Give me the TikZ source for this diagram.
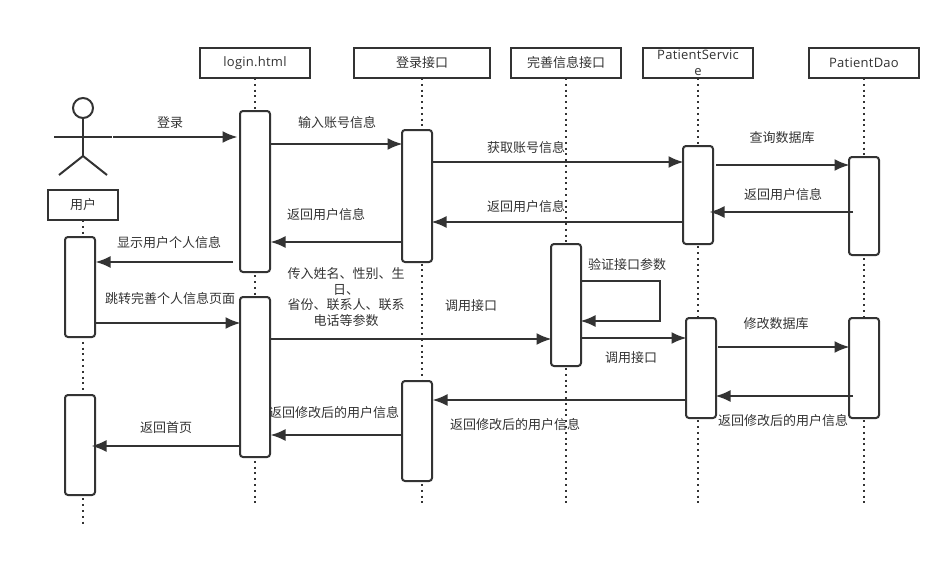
\documentclass[tikz,border=0pt]{standalone}
\usepackage{fontspec}
\setmainfont{Open Sans}
\newfontfamily\cjk{Noto Sans CJK SC}
\usetikzlibrary{arrows.meta}
\definecolor{ink}{HTML}{333333}
\newcommand{\lowered}[1]{\raisebox{-1pt}{#1}}
\tikzset{
  every node/.style={text=ink,font=\fontsize{13}{15.8}\selectfont\cjk,inner sep=0pt,outer sep=0pt},
  head/.style={draw=ink,line width=2pt,fill=white,minimum height=30pt,anchor=north west,align=center},
  latin/.style={font=\fontsize{13}{15}\selectfont\addfontfeatures{LetterSpace=2}},
  act/.style={draw=ink,line width=2pt,fill=white,rounded corners=3pt,minimum width=30pt,anchor=north west},
  life/.style={draw=ink,line width=2pt,dash pattern=on 2pt off 3.8pt},
  msg/.style={draw=ink,line width=2pt,shorten >=-1.5pt,-{Latex[length=15pt,width=12pt]}},
  stick/.style={draw=ink,line width=2pt},
  lab/.style={align=center,yshift=-1pt}
}
\begin{document}
\begin{tikzpicture}[x=1pt,y=-1pt]
\useasboundingbox (0,0) rectangle (951,562);
% heads
\node[head,minimum width=110pt,latin] (hlogin) at (200,48) {\lowered{login.html}};
\node[head,minimum width=136pt] (hapi) at (354,48) {\lowered{登录接口}};
\node[head,minimum width=110pt] (hinfo) at (511,48) {\lowered{完善信息接口}};
\node[head,minimum width=110pt,text width=106pt,latin] (hsvc) at (643,48) {PatientServic\\[1.5pt]e};
\node[head,minimum width=110pt,latin] (hdao) at (809,48) {\lowered{PatientDao}};
\node[head,minimum width=70pt] (huser) at (48,190) {\lowered{用户}};
% lifeline ends
\coordinate (euser) at (83,527);
\coordinate (elogin) at (255,506);
\coordinate (eapi) at (422,507);
\coordinate (einfo) at (566,506);
\coordinate (esvc) at (698,506);
\coordinate (edao) at (864,506);
\draw[life] (huser.south) -- (euser);
\draw[life] (hlogin.south) -- (elogin);
\draw[life] (hapi.south) -- (eapi);
\draw[life] (hinfo.south) -- (einfo);
\draw[life] (hsvc.south) -- (esvc);
\draw[life] (hdao.south) -- (edao);
% activations
\node[act,minimum height=100pt] (u1) at (65,237) {};
\node[act,minimum height=100pt] (u2) at (65,395) {};
\node[act,minimum height=161pt] (l1) at (240,111) {};
\node[act,minimum height=160pt] (l2) at (240,297) {};
\node[act,minimum height=132pt] (a1) at (402,130) {};
\node[act,minimum height=100pt] (a2) at (402,381) {};
\node[act,minimum height=122pt] (i1) at (551,244) {};
\node[act,minimum height=98pt] (s1) at (683,146) {};
\node[act,minimum height=100pt] (s2) at (686,318) {};
\node[act,minimum height=98pt] (d1) at (849,157) {};
\node[act,minimum height=100pt] (d2) at (849,318) {};
% actor
\node[draw=ink,line width=2pt,circle,minimum size=20pt,fill=white] (ahead) at (83,108) {};
\coordinate (hip) at (83,156);
\coordinate (armL) at (54,137);
\coordinate (armR) at (112,137);
\coordinate (legL) at (59,175);
\coordinate (legR) at (107,175);
\draw[stick] (ahead.south) -- (hip);
\draw[stick] (armL) -- (armR);
\draw[stick] (legL) -- (hip) -- (legR);
% messages
\coordinate (m1s) at (113,137); \coordinate (m1e) at (236,137);
\draw[msg] (m1s) -- (m1e);
\coordinate (m2e) at (401,144);
\draw[msg] (l1.east |- m2e) -- (m2e);
\coordinate (m3e) at (682,162);
\draw[msg] (a1.east |- m3e) -- (m3e);
\coordinate (m4s) at (716,165); \coordinate (m4e) at (848,165);
\draw[msg] (m4s) -- (m4e);
\coordinate (m5s) at (853,212); \coordinate (m5e) at (711,212);
\draw[msg] (m5s) -- (m5e);
\coordinate (m6e) at (433,222);
\draw[msg] (s1.west |- m6e) -- (m6e);
\coordinate (m7e) at (272,242);
\draw[msg] (a1.west |- m7e) -- (m7e);
\coordinate (m8s) at (233,262); \coordinate (m8e) at (97,262);
\draw[msg] (m8s) -- (m8e);
\coordinate (m9e) at (239,323);
\draw[msg] (u1.east |- m9e) -- (m9e);
\coordinate (m10e) at (550,339);
\draw[msg] (l2.east |- m10e) -- (m10e);
\coordinate (selfa) at (581,281); \coordinate (selfb) at (660,281);
\coordinate (selfc) at (660,321); \coordinate (selfd) at (582,321);
\draw[msg] (selfa) -- (selfb) -- (selfc) -- (selfd);
\coordinate (m12e) at (685,338);
\draw[msg] (i1.east |- m12e) -- (m12e);
\coordinate (m13s) at (718,347); \coordinate (m13e) at (848,347);
\draw[msg] (m13s) -- (m13e);
\coordinate (m14s) at (853,396); \coordinate (m14e) at (717,396);
\draw[msg] (m14s) -- (m14e);
\coordinate (m15e) at (434,400);
\draw[msg] (s2.west |- m15e) -- (m15e);
\coordinate (m16e) at (272,435);
\draw[msg] (a2.west |- m16e) -- (m16e);
\coordinate (m17e) at (93,446);
\draw[msg] (l2.west |- m17e) -- (m17e);
% labels
\node[lab] (t1) at (170,122) {登录};
\node[lab] (t2) at (337,122) {输入账号信息};
\node[lab] (t3) at (526,147) {获取账号信息};
\node[lab] (t4) at (782,137) {查询数据库};
\node[lab] (t5) at (783,194) {返回用户信息};
\node[lab] (t6) at (526,206) {返回用户信息};
\node[lab] (t7) at (326,214) {返回用户信息};
\node[lab] (t8) at (169,242) {显示用户个人信息};
\node[lab] (t9) at (627,264) {验证接口参数};
\node[lab] (t10) at (170,298) {跳转完善个人信息页面};
\node[lab] (t11) at (346,296) {传入姓名、性别、生\\日、\\省份、联系人、联系\\电话等参数};
\node[lab] (t12) at (471,305) {调用接口};
\node[lab] (t13) at (631,357) {调用接口};
\node[lab] (t14) at (776,323) {修改数据库};
\node[lab] (t15) at (783,420) {返回修改后的用户信息};
\node[lab] (t16) at (515,424) {返回修改后的用户信息};
\node[lab] (t17) at (334,412) {返回修改后的用户信息};
\node[lab] (t18) at (166,427) {返回首页};
\end{tikzpicture}
\end{document}
